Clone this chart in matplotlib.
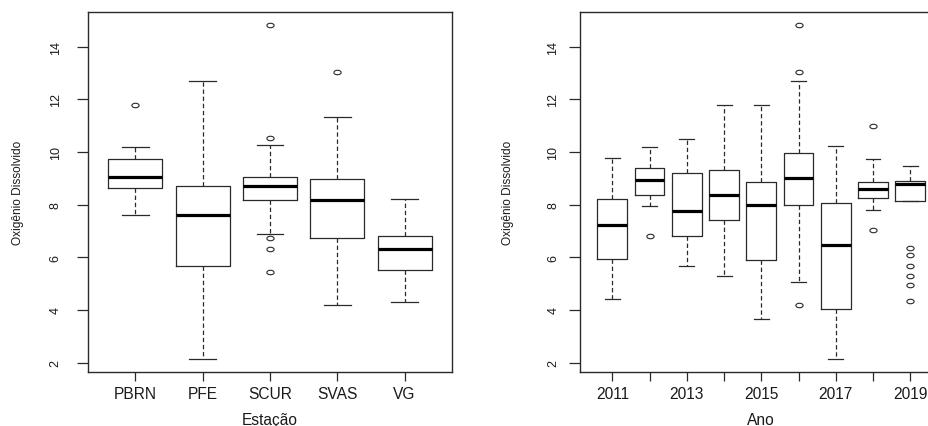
import matplotlib
matplotlib.use('Agg')
import matplotlib.pyplot as plt
from matplotlib.path import Path
from matplotlib.transforms import Affine2D

# dados (boxplots de OD)
estacoes = ['PBRN', 'PFE', 'SCUR', 'SVAS', 'VG']
est_whislo = [7.61, 2.15, 6.88, 4.19, 4.30]
est_q1 = [8.62, 5.65, 8.18, 6.72, 5.53]
est_med = [9.06, 7.59, 8.69, 8.18, 6.31]
est_q3 = [9.75, 8.71, 9.06, 8.96, 6.80]
est_whishi = [10.20, 12.69, 10.27, 11.33, 8.22]
est_fliers = [[11.78], [], [14.83, 10.52, 6.75, 6.30, 5.44], [13.03], []]

anos = [2011, 2012, 2013, 2014, 2015, 2016, 2017, 2018, 2019]
ano_labels = ['2011', '', '2013', '', '2015', '', '2017', '', '2019']
ano_whislo = [4.43, 7.94, 5.65, 5.29, 3.64, 5.07, 2.15, 7.79, 8.12]
ano_q1 = [5.92, 8.37, 6.80, 7.40, 5.89, 8.00, 4.05, 8.27, 8.12]
ano_med = [7.24, 8.95, 7.76, 8.36, 8.00, 9.01, 6.45, 8.61, 8.78]
ano_q3 = [8.21, 9.38, 9.21, 9.32, 8.87, 9.96, 8.05, 8.85, 8.90]
ano_whishi = [9.77, 10.20, 10.50, 11.78, 11.78, 12.69, 10.23, 9.75, 9.46]
ano_fliers = [[], [6.79], [], [], [], [14.83, 13.03, 4.20], [], [11.0, 7.05],
              [6.36, 6.07, 5.65, 5.30, 4.93, 4.32]]

yticks = [2, 4, 6, 8, 10, 12, 14]

plt.rcParams['font.family'] = ['Liberation Sans', 'DejaVu Sans']
cor = '#2a2a2a'
txt = '#1a1a1a'

# circulo achatado, como no original
oval = Path.unit_circle().transformed(Affine2D().scale(1.0, 0.62))


def stats(lo, q1, med, q3, hi, fl):
    return [dict(whislo=a, q1=b, med=c, q3=d, whishi=e, fliers=f)
            for a, b, c, d, e, f in zip(lo, q1, med, q3, hi, fl)]


def painel(ax, st, labels, xlim, xlabel, ypad):
    n = len(st)
    ax.bxp(st, positions=range(1, n + 1), widths=0.8, capwidths=0.4,
           showfliers=True,
           boxprops=dict(color=cor, lw=0.9),
           medianprops=dict(color='black', lw=2.3, solid_capstyle='butt'),
           whiskerprops=dict(color=cor, lw=0.9, ls=(0, (3.5, 2.2))),
           capprops=dict(color=cor, lw=0.9),
           flierprops=dict(marker=oval, markersize=5.2, markerfacecolor='none',
                           markeredgecolor=cor, markeredgewidth=0.8))
    ax.set_xlim(*xlim)
    ax.set_ylim(1.64, 15.34)
    ax.set_yticks(yticks)
    ax.set_yticklabels([str(v) for v in yticks])
    ax.set_xticks(range(1, n + 1))
    ax.set_xticklabels(labels, fontsize=11.2)
    for s in ax.spines.values():
        s.set_color(cor)
        s.set_linewidth(1.0)
    ax.tick_params(axis='y', length=7.7, width=0.9, color=cor, pad=ypad,
                   labelsize=9, labelcolor=txt)
    ax.tick_params(axis='x', length=6.3, width=0.9, color=cor, pad=4.0,
                   labelcolor=txt)
    for t in ax.get_yticklabels():
        t.set_rotation(90)
        t.set_va('center')
    ax.set_xlabel(xlabel, fontsize=11.2, color=txt)
    ax.xaxis.set_label_coords(0.5, -0.11)
    ax.set_ylabel('Oxigênio Dissolvido', fontsize=8.6, color=txt, va='center')


fig = plt.figure(figsize=(9.29, 4.27), dpi=100)
ax1 = fig.add_axes([88.3 / 929, 54 / 427, 363.4 / 929, 360.5 / 427])
ax2 = fig.add_axes([580.3 / 929, 54 / 427, 362 / 929, 360.5 / 427])

painel(ax1, stats(est_whislo, est_q1, est_med, est_q3, est_whishi, est_fliers),
       estacoes, (0.3, 5.7), 'Estação', 11.5)
ax1.yaxis.set_label_coords(-0.193, 0.5)

painel(ax2, stats(ano_whislo, ano_q1, ano_med, ano_q3, ano_whishi, ano_fliers),
       ano_labels, (0.14, 9.86), 'Ano', 7.5)
ax2.yaxis.set_label_coords(-0.201, 0.5)

fig.savefig('out.png', dpi=100)
